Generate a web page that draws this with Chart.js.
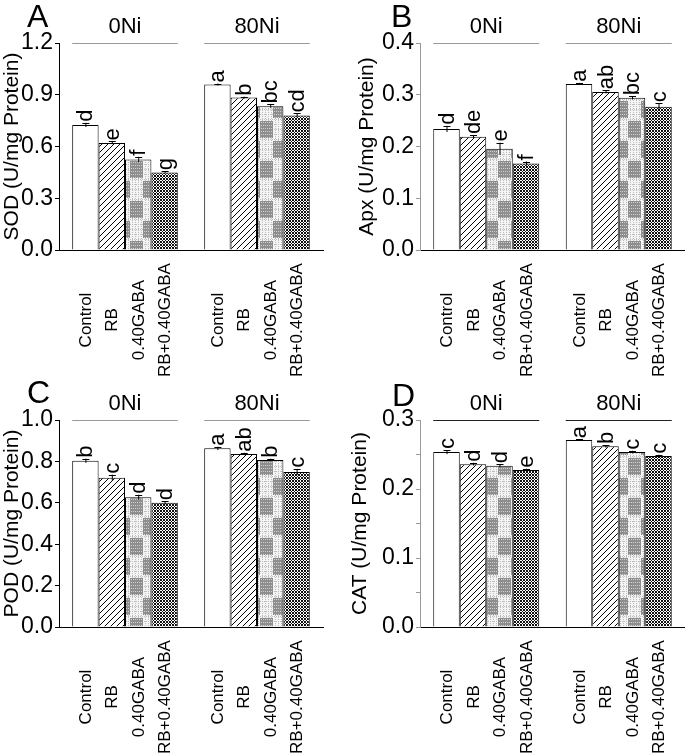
<!DOCTYPE html>
<html>
<head>
<meta charset="utf-8">
<script src="https://cdn.jsdelivr.net/npm/chart.js@4.4.1/dist/chart.umd.min.js"></script>
<style>
body { margin: 0; background: #fff; }
#wrap { position: relative; width: 685px; height: 754px; }
#wrap canvas { position: absolute; }
</style>
</head>
<body>
<div id="wrap">
  <canvas id="cA" width="342" height="377" style="left:0;top:0"></canvas>
  <canvas id="cB" width="343" height="377" style="left:342px;top:0"></canvas>
  <canvas id="cC" width="342" height="377" style="left:0;top:377px"></canvas>
  <canvas id="cD" width="343" height="377" style="left:342px;top:377px"></canvas>
</div>
<script>
const groups = ['0Ni', '80Ni'];
const treatments = ['Control', 'RB', '0.40GABA', 'RB+0.40GABA'];

// rows = treatment, columns = group (0Ni, 80Ni)
const sodMean = [[0.725, 0.959], [0.621, 0.884], [0.525, 0.834], [0.450, 0.780]];
const sodErr = [[0.012, 0.006], [0.008, 0.005], [0.015, 0.010], [0.006, 0.012]];
const sodLetters = [['d', 'a'], ['e', 'b'], ['f', 'bc'], ['g', 'cd']];

const apxMean = [[0.234, 0.321], [0.219, 0.3055], [0.1955, 0.294], [0.167, 0.2766]];
const apxErr = [[0.006, 0.002], [0.003, 0.003], [0.012, 0.003], [0.004, 0.007]];
const apxLetters = [['d', 'a'], ['de', 'ab'], ['e', 'bc'], ['f', 'c']];

const podMean = [[0.803, 0.863], [0.721, 0.836], [0.627, 0.807], [0.600, 0.749]];
const podErr = [[0.010, 0.008], [0.015, 0.006], [0.012, 0.006], [0.008, 0.015]];
const podLetters = [['b', 'a'], ['c', 'ab'], ['d', 'b'], ['d', 'c']];

const catMean = [[0.2535, 0.271], [0.236, 0.2618], [0.2337, 0.2535], [0.2274, 0.2477]];
const catErr = [[0.003, 0.001], [0.002, 0.002], [0.002, 0.002], [0.002, 0.002]];
const catLetters = [['c', 'a'], ['d', 'b'], ['d', 'c'], ['e', 'c']];

const FONT = "'Liberation Sans', Arial, sans-serif";

function tile(w, h, draw) {
    let c = document.createElement('canvas');
    c.width = w; c.height = h;
    let g = c.getContext('2d');
    draw(g);
    return g.createPattern(c, 'repeat');
}

let hatch = tile(6, 6, g => {
    g.fillStyle = '#fff'; g.fillRect(0, 0, 6, 6);
    g.strokeStyle = '#000'; g.lineWidth = 1;
    g.beginPath();
    g.moveTo(-1, 7); g.lineTo(7, -1);
    g.moveTo(-1, 1); g.lineTo(1, -1);
    g.moveTo(5, 7); g.lineTo(7, 5);
    g.stroke();
});

// dense cross hatch
let cross = tile(6, 6, g => {
    g.fillStyle = '#fff'; g.fillRect(0, 0, 6, 6);
    g.fillStyle = '#111';
    for (let x = 0; x < 6; x++) {
        for (let y = 0; y < 6; y++) {
            if ((x + y) % 3 == 0 || (x - y + 6) % 3 == 0) g.fillRect(x, y, 1, 1);
        }
    }
});

let plaid = tile(26, 40, g => {
    g.fillStyle = '#f4f4f4'; g.fillRect(0, 0, 26, 40);
    g.fillStyle = '#bdbdbd';
    [2, 5, 8, 11, 15, 18, 21, 24].forEach(x => {
        for (let y = 0; y < 40; y += 2) g.fillRect(x, y, 1, 1);
    });
    for (let y = 4; y < 40; y += 5)
        for (let x = 0; x < 26; x += 2) g.fillRect(x, y, 1, 1);
    function block(x0, y0, w, h) {
        g.fillStyle = '#8e8e8e'; g.fillRect(x0, y0, w, h);
        g.fillStyle = '#cfcfcf';
        for (let x = x0 + 1; x < x0 + w; x += 2)
            for (let y = y0 + 1; y < y0 + h; y += 3) g.fillRect(x, y, 1, 1);
    }
    block(0, 1, 13, 17);
    block(13, 21, 13, 17);
});

const fills = ['#fff', hatch, plaid, cross];

function makePanel(id, opt) {
    let ctx = document.getElementById(id).getContext('2d');
    let datasets = treatments.map((t, i) => ({
        label: t,
        data: opt.mean[i],
        backgroundColor: fills[i],
        borderColor: '#000',
        borderWidth: 1,
        categoryPercentage: 0.8,
        barPercentage: 1.0,
        xAxisID: 'x',
        yAxisID: 'y'
    }));

    let decorations = {
        id: 'decor' + id,
        afterDatasetsDraw(chart) {
            let c = chart.ctx;
            let y = chart.scales.y;
            let xs = chart.scales.x;
            let area = chart.chartArea;
            c.save();

            // error bars and letters
            datasets.forEach((ds, i) => {
                let meta = chart.getDatasetMeta(i);
                meta.data.forEach((bar, j) => {
                    let v = ds.data[j];
                    let e = opt.err[i][j];
                    let top = y.getPixelForValue(v + e);
                    let bot = y.getPixelForValue(v - e);
                    c.strokeStyle = '#000';
                    c.lineWidth = 1;
                    c.beginPath();
                    c.moveTo(bar.x + 0.5, bot);
                    c.lineTo(bar.x + 0.5, top);
                    c.moveTo(bar.x - 3, Math.round(top) + 0.5);
                    c.lineTo(bar.x + 4, Math.round(top) + 0.5);
                    c.stroke();

                    c.save();
                    c.translate(bar.x + 1, top - 1);
                    c.rotate(-Math.PI / 2);
                    c.fillStyle = '#000';
                    c.font = '22px ' + FONT;
                    c.textAlign = 'left';
                    c.textBaseline = 'middle';
                    c.fillText(opt.letters[i][j], 0, 0);
                    c.restore();

                    // treatment names under the axis
                    c.save();
                    c.translate(bar.x + 1, area.bottom + 70);
                    c.rotate(-Math.PI / 2);
                    c.fillStyle = '#000';
                    c.font = '17px ' + FONT;
                    c.textAlign = 'center';
                    c.textBaseline = 'middle';
                    c.fillText(treatments[i], 0, 0);
                    c.restore();
                });
            });

            // group names with line over each group
            let first = chart.getDatasetMeta(0).data;
            let last = chart.getDatasetMeta(datasets.length - 1).data;
            groups.forEach((gname, j) => {
                let x0 = first[j].x - first[j].width / 2;
                let x1 = last[j].x + last[j].width / 2;
                c.strokeStyle = opt.groupLine;
                c.lineWidth = 1;
                c.beginPath();
                c.moveTo(x0, Math.round(area.top) + 0.5);
                c.lineTo(x1, Math.round(area.top) + 0.5);
                c.stroke();
                c.fillStyle = '#000';
                c.font = '22px ' + FONT;
                c.textAlign = 'center';
                c.textBaseline = 'alphabetic';
                c.fillText(gname, xs.getPixelForValue(j), 33);
            });

            // panel letter
            c.font = '32px ' + FONT;
            c.textAlign = 'left';
            c.textBaseline = 'alphabetic';
            c.fillText(opt.tag, opt.tagX, opt.tagY);
            c.restore();
        }
    };

    return new Chart(ctx, {
        type: 'bar',
        data: { labels: groups, datasets: datasets },
        options: {
            responsive: false,
            animation: false,
            layout: { padding: { left: 0, top: 43, right: opt.padRight, bottom: 127 } },
            plugins: { legend: { display: false }, tooltip: { enabled: false } },
            scales: {
                x: {
                    type: 'category',
                    offset: true,
                    grid: { display: false },
                    border: { display: true, color: '#000', width: 1 },
                    ticks: { display: false },
                    afterFit: s => { s.height = 0; }
                },
                y: {
                    min: 0,
                    max: opt.yMax,
                    ticks: {
                        stepSize: opt.yStep / 2,
                        padding: 2,
                        color: '#000',
                        font: { family: FONT, size: 23 },
                        callback: v => {
                            let k = v / opt.yStep;
                            return Math.abs(k - Math.round(k)) < 1e-6 ? v.toFixed(1) : '';
                        }
                    },
                    grid: { drawOnChartArea: false, drawTicks: true, tickLength: 4, color: opt.axisColor },
                    border: { display: true, color: opt.axisColor, width: 1 },
                    title: {
                        display: true,
                        text: opt.yTitle,
                        color: '#000',
                        font: { family: FONT, size: 21 },
                        padding: { top: opt.titlePad, bottom: 0 }
                    },
                    afterFit: s => { s.width = opt.yWidth; }
                }
            }
        },
        plugins: [decorations]
    });
}

makePanel('cA', {
    tag: 'A', tagX: 27, tagY: 27, yTitle: 'SOD (U/mg Protein)',
    mean: sodMean, err: sodErr, letters: sodLetters,
    yMax: 1.2, yStep: 0.3, yWidth: 59, titlePad: 0, padRight: 19,
    axisColor: '#000', groupLine: '#999'
});
makePanel('cB', {
    tag: 'B', tagX: 49, tagY: 27, yTitle: 'Apx (U/mg Protein)',
    mean: apxMean, err: apxErr, letters: apxLetters,
    yMax: 0.4, yStep: 0.1, yWidth: 78, titlePad: 13, padRight: 0,
    axisColor: '#999', groupLine: '#999'
});
makePanel('cC', {
    tag: 'C', tagX: 27, tagY: 26, yTitle: 'POD (U/mg Protein)',
    mean: podMean, err: podErr, letters: podLetters,
    yMax: 1.0, yStep: 0.2, yWidth: 59, titlePad: 0, padRight: 19,
    axisColor: '#000', groupLine: '#999'
});
makePanel('cD', {
    tag: 'D', tagX: 50, tagY: 29, yTitle: 'CAT (U/mg Protein)',
    mean: catMean, err: catErr, letters: catLetters,
    yMax: 0.3, yStep: 0.1, yWidth: 78, titlePad: 6, padRight: 0,
    axisColor: '#999', groupLine: '#222'
});
</script>
</body>
</html>
